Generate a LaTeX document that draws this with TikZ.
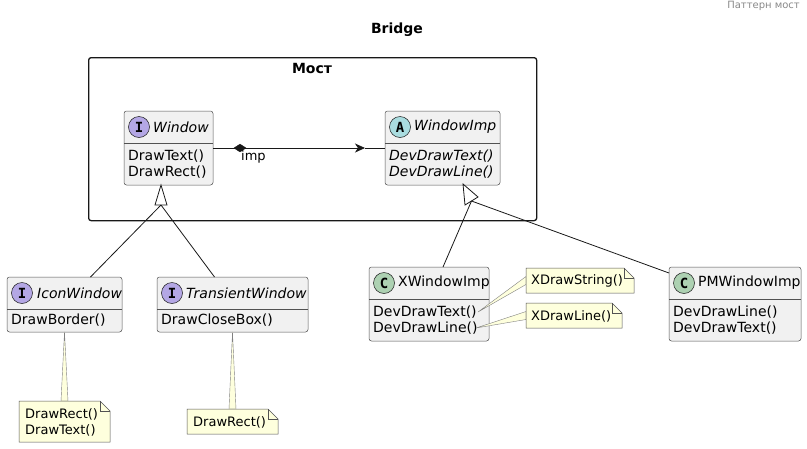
\documentclass[tikz,border=0pt]{standalone}
\usepackage{fontspec}
\setmainfont{DejaVu Sans}
\newfontfamily\circfont{DejaVu Sans Mono}
\usetikzlibrary{shapes.geometric,arrows.meta}
\definecolor{clsfill}{HTML}{F1F1F1}
\definecolor{linec}{HTML}{181818}
\definecolor{notefill}{HTML}{FEFFDD}
\definecolor{icol}{HTML}{B4A7E5}
\definecolor{acol}{HTML}{A9DCDF}
\definecolor{ccol}{HTML}{ADD1B2}
\definecolor{hdrgray}{HTML}{888888}
\tikzset{
  clsbox/.style={draw=linec!75, fill=clsfill, rounded corners=2.5pt, line width=0.5pt, inner sep=0pt, outer sep=0pt, anchor=north west},
  spot/.style={circle, draw=linec, line width=0.5pt, minimum size=21pt, inner sep=0pt, font=\circfont\bfseries\fontsize{14}{14}\selectfont},
  cname/.style={anchor=west, inner sep=0pt, font=\fontsize{14}{16}\selectfont},
  meth/.style={anchor=west, inner sep=0pt, align=left, font=\fontsize{14}{16}\selectfont},
  notebox/.style={inner sep=0pt, outer sep=0pt, anchor=north west},
  notetext/.style={anchor=west, inner sep=0pt, align=left, font=\fontsize{13}{16}\selectfont},
  divline/.style={draw=linec!75, line width=0.5pt},
  link/.style={draw=linec, line width=0.8pt},
  wedge/.style={draw=linec!55, fill=notefill, line width=0.4pt},
  notefr/.style={draw=linec!75, fill=notefill, line width=0.5pt},
}
\newcommand{\drawnote}[1]{%
  \filldraw[notefr] (#1.north west) -- ([xshift=-10pt]#1.north east) -- ([yshift=-10pt]#1.north east) -- (#1.south east) -- (#1.south west) -- cycle;
  \draw[notefr, fill=none] ([xshift=-10pt]#1.north east) -- ([xshift=-10pt,yshift=-10pt]#1.north east) -- ([yshift=-10pt]#1.north east);
}
\begin{document}
\begin{tikzpicture}[x=1pt,y=-1pt]
\useasboundingbox (0,0) rectangle (807,448);

% header and title
\node[anchor=east, inner sep=0pt, text=hdrgray, font=\fontsize{10}{12}\selectfont] (hdr) at (800,6) {Паттерн мост};
\node[inner sep=0pt, font=\bfseries\fontsize{14}{16}\selectfont] (title) at (397,30) {Bridge};

% package
\node[draw=linec, line width=1.3pt, rounded corners=2.5pt, minimum width=448pt, minimum height=163pt, inner sep=0pt, anchor=north west] (pkg) at (88,57) {};
\node[inner sep=0pt, font=\bfseries\fontsize{14}{16}\selectfont] (pkgname) at (312,68) {Мост};

% Window
\node[clsbox, minimum width=89pt, minimum height=74pt] (window) at (124,111) {};
\draw[divline] (124,143) -- (213,143);
\node[spot, fill=icol] (windowspot) at (139,127) {I};
\node[cname, font=\itshape\fontsize{14}{16}\selectfont] (windowname) at (153,127) {Window};
\node[meth] (windowm) at (128,164) {DrawText()\\DrawRect()};

% WindowImp
\node[clsbox, minimum width=115pt, minimum height=74pt] (windowimp) at (385,111) {};
\draw[divline] (385,143) -- (500,143);
\node[spot, fill=acol] (wimpspot) at (400,127) {A};
\node[cname, font=\itshape\fontsize{14}{16}\selectfont] (wimpname) at (414,127) {WindowImp};
\node[meth, font=\itshape\fontsize{14}{16}\selectfont] (wimpm) at (389,164) {DevDrawText()\\DevDrawLine()};

% IconWindow
\node[clsbox, minimum width=115pt, minimum height=55pt] (iconwin) at (7,277) {};
\draw[divline] (7,309) -- (122,309);
\node[spot, fill=icol] (iconspot) at (22,293) {I};
\node[cname, font=\itshape\fontsize{14}{16}\selectfont] (iconname) at (37,293) {IconWindow};
\node[meth] (iconm) at (11,320) {DrawBorder()};

% TransientWindow
\node[clsbox, minimum width=151pt, minimum height=55pt] (transwin) at (157,277) {};
\draw[divline] (157,309) -- (308,309);
\node[spot, fill=icol] (transspot) at (172,293) {I};
\node[cname, font=\itshape\fontsize{14}{16}\selectfont] (transname) at (186,293) {TransientWindow};
\node[meth] (transm) at (161,320) {DrawCloseBox()};

% XWindowImp
\node[clsbox, minimum width=120pt, minimum height=74pt] (xwin) at (369,267) {};
\draw[divline] (369,299) -- (489,299);
\node[spot, fill=ccol] (xspot) at (384,283) {C};
\node[cname] (xname) at (398,283) {XWindowImp};
\node[meth] (xm) at (373,320) {DevDrawText()\\DevDrawLine()};

% PMWindowImp
\node[clsbox, minimum width=132pt, minimum height=74pt] (pmwin) at (669,267) {};
\draw[divline] (669,299) -- (801,299);
\node[spot, fill=ccol] (pmspot) at (684,283) {C};
\node[cname] (pmname) at (698,283) {PMWindowImp};
\node[meth] (pmm) at (673,320) {DevDrawLine()\\DevDrawText()};

% composition Window -> WindowImp
\coordinate (ahead) at (365,148);
\draw[link, -{Stealth[length=10pt,width=9pt,inset=3pt]}] (window.east) -- (ahead);
\draw[link] (ahead) -- (windowimp.west);
\node[diamond, fill=linec, draw=linec, inner sep=0pt, minimum width=12pt, minimum height=8pt] (diam) at (240,148) {};
\node[inner sep=0pt, anchor=west, font=\fontsize{13}{15}\selectfont] (implabel) at (241,157) {imp};

% inheritance Window
\coordinate (wtip) at (161,185);
\coordinate (wbase) at (161,205);
\draw[link, fill=white] (wtip) -- (155,205) -- (167,205) -- cycle;
\draw[link] (wbase) -- ([xshift=26pt]iconwin.north);
\draw[link] (wbase) -- ([xshift=-18pt]transwin.north);

% inheritance WindowImp
\coordinate (itip) at (463,184);
\coordinate (ibase) at (471.5,201);
\draw[link, fill=white] (itip) -- (465,205) -- (478,197) -- cycle;
\draw[link] (ibase) -- ([xshift=14pt]xwin.north);
\draw[link] (ibase) -- ([yshift=-6pt]pmwin.north west);

% notes
\node[notebox, minimum width=91pt, minimum height=41pt] (n1) at (19,401) {};
\node[notebox, minimum width=91pt, minimum height=25pt] (n2) at (187,409) {};
\node[notebox, minimum width=108pt, minimum height=25pt] (n3) at (526,268) {};
\node[notebox, minimum width=96pt, minimum height=25pt] (n4) at (526,303) {};
\coordinate (xtext) at (478,312);
\coordinate (xline) at (476,328);

\filldraw[wedge] (iconwin.south) -- ([xshift=-3.5pt]n1.north) -- ([xshift=3.5pt]n1.north) -- cycle;
\filldraw[wedge] (transwin.south) -- ([xshift=-3.5pt]n2.north) -- ([xshift=3.5pt]n2.north) -- cycle;
\filldraw[wedge] (xtext) -- ([yshift=4pt]n3.west) -- ([yshift=-4pt]n3.west) -- cycle;
\filldraw[wedge] (xline) -- ([yshift=4pt]n4.west) -- ([yshift=-4pt]n4.west) -- cycle;

\drawnote{n1}
\drawnote{n2}
\drawnote{n3}
\drawnote{n4}
\node[notetext] (n1t) at (25,422) {DrawRect()\\DrawText()};
\node[notetext] (n2t) at (193,422) {DrawRect()};
\node[notetext] (n3t) at (531,281) {XDrawString()};
\node[notetext] (n4t) at (531,316) {XDrawLine()};
\end{tikzpicture}
\end{document}
